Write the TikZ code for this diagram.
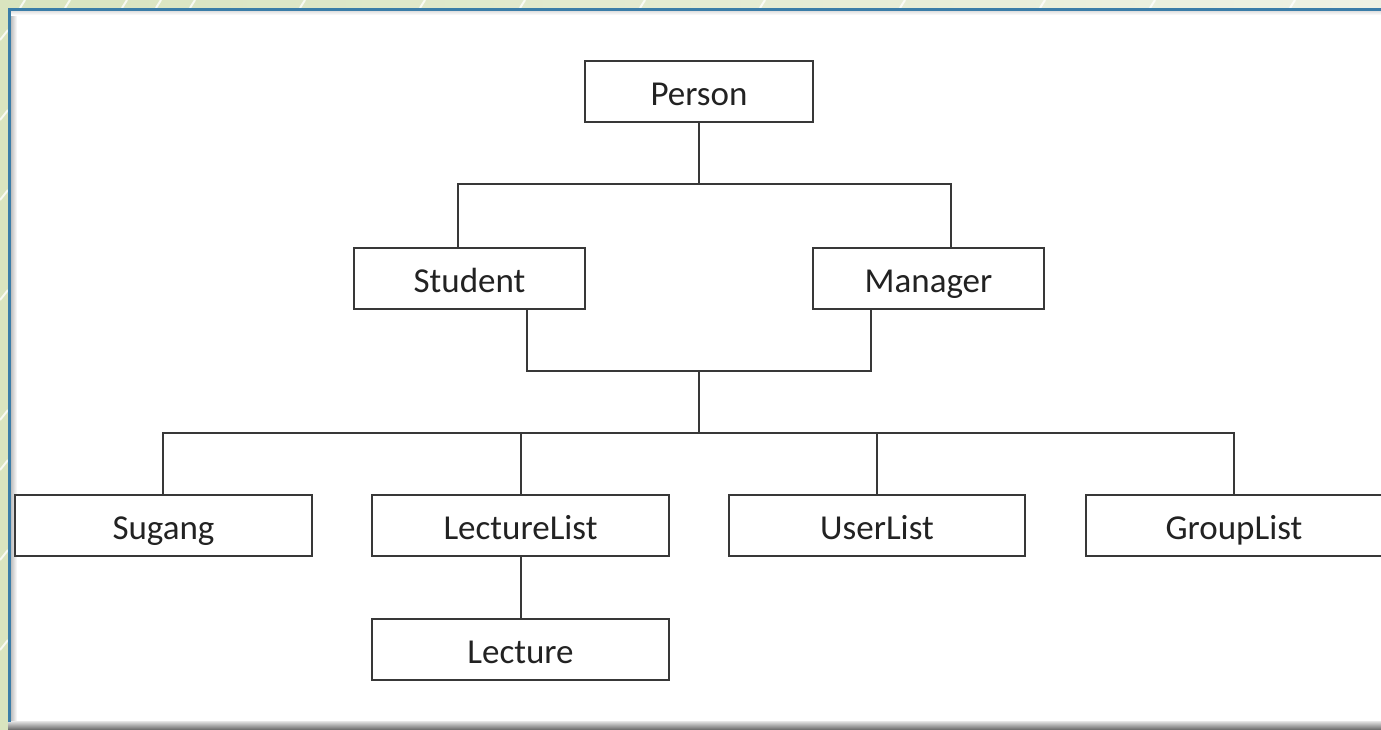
\documentclass[tikz,border=0pt]{standalone}
\usepackage{fontspec}
\setmainfont{Carlito}
\usetikzlibrary{calc}
\definecolor{bgA}{HTML}{D9E4BF}
\definecolor{bgB}{HTML}{EEF2E4}
\definecolor{frameblue}{HTML}{3A7DA8}
\definecolor{linegray}{HTML}{383838}
\definecolor{txt}{HTML}{222222}
\tikzset{
  cls/.style={draw=linegray, line width=2pt, fill=white, minimum height=61pt,
    inner sep=0pt, text height=30pt, text depth=2pt,
    font=\fontsize{35}{40}\selectfont, text=txt},
  conn/.style={draw=linegray, line width=2pt},
  slash/.style={draw=white, line width=2pt, opacity=0.8}
}
\begin{document}
\begin{tikzpicture}[x=1pt,y=-1pt]
\useasboundingbox (0,0) rectangle (1381,729);
% background
\shade[left color=bgA, right color=bgB] (0,0) rectangle (1381,729);
\foreach \x in {20,65,122,156,190,300,420,520,640,760,900,1040,1150,1290}
  \draw[slash] (\x,8) -- ++(5,-8);
\foreach \y in {40,120,200,300,420,470,560,650}
  \draw[slash] (0,\y) -- ++(8,-10);
% panel
\fill[white] (8,8) rectangle (1381,722);
\shade[left color=black!25, right color=white] (11,11) rectangle (17,722);
\shade[top color=black!12, bottom color=white] (11,11) rectangle (1381,15);
\shade[top color=black!10, bottom color=black!55] (8,721) rectangle (1381,729);
\draw[frameblue, line width=3pt] (9.5,722) -- (9.5,9.5) -- (1381,9.5);
% nodes
\node[cls, minimum width=228pt] (person) at (699,91) {Person};
\node[cls, minimum width=231pt] (student) at (469.5,278) {Student};
\node[cls, minimum width=231pt] (manager) at (928.5,278) {Manager};
\node[cls, minimum width=297pt] (sugang) at (163.5,525.5) {Sugang};
\node[cls, minimum width=297pt] (lecturelist) at (520.5,525.5) {LectureList};
\node[cls, minimum width=296pt] (userlist) at (877,525.5) {UserList};
\node[cls, minimum width=296pt] (grouplist) at (1234,525.5) {GroupList};
\node[cls, minimum width=297pt] (lecture) at (520.5,649) {Lecture};
% connectors
\coordinate (j1) at (699,184);
\coordinate (j2) at (699,370.5);
\coordinate (j3) at (699,432.5);
\draw[conn] (person.south) -- (j1);
\draw[conn] (student.north -| 458,0) |- (j1) -| (manager.north -| 951,0);
\draw[conn] (student.south -| 526.5,0) |- (j2) -| (manager.south -| 871,0);
\draw[conn] (j2) -- (j3);
\draw[conn] (sugang.north -| 163,0) |- (j3) -| (grouplist.north);
\draw[conn] (lecturelist.north) -- (lecturelist.north |- j3);
\draw[conn] (userlist.north) -- (userlist.north |- j3);
\draw[conn] (lecturelist.south) -- (lecture.north);
\end{tikzpicture}
\end{document}
